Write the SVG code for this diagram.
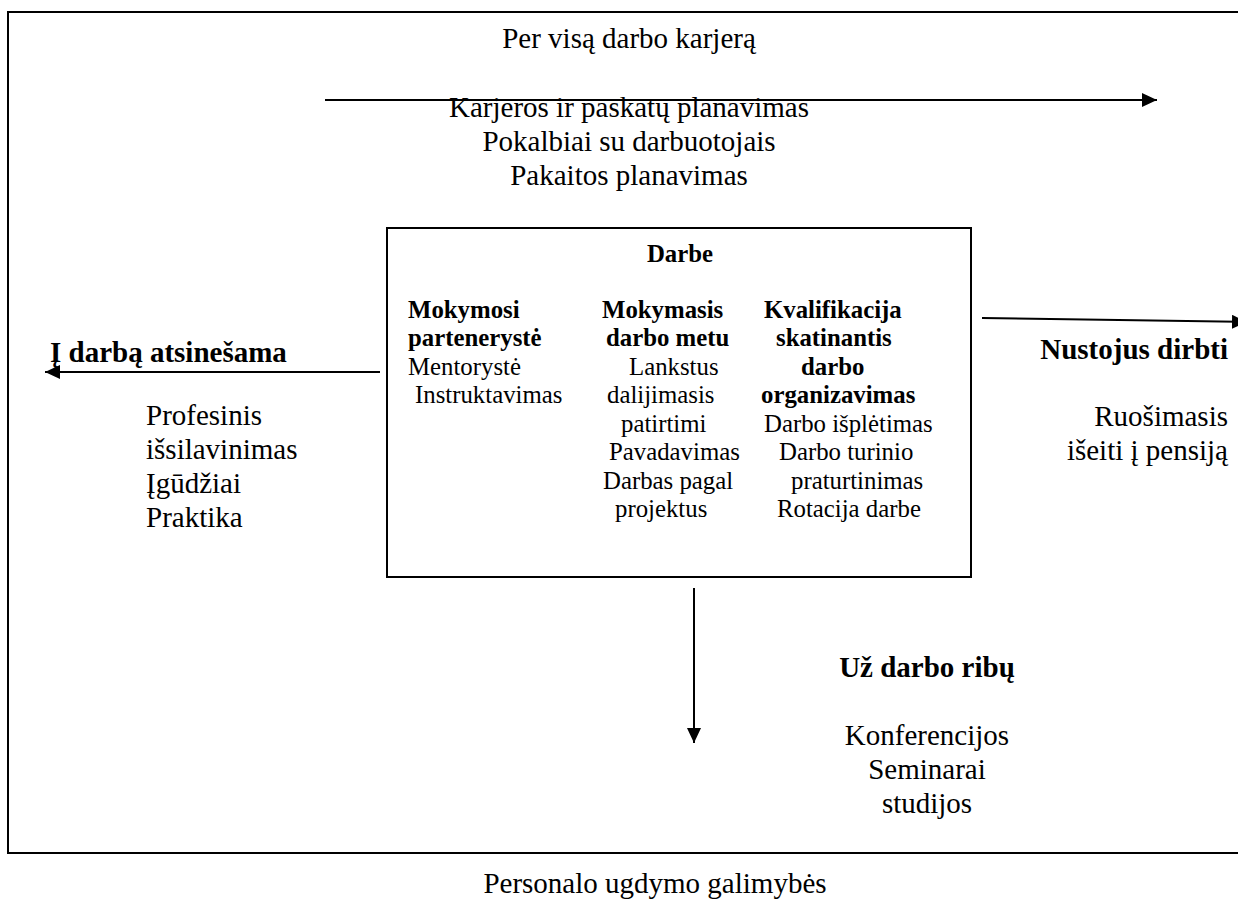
<svg xmlns="http://www.w3.org/2000/svg" width="1238" height="909" viewBox="0 0 1238 909">
  <style>
    text { font-family: "Liberation Serif", "Times New Roman", serif; fill: #000; }
    .big { font-size: 29px; }
    .small { font-size: 24.8px; }
    .b { font-weight: bold; }
    .mid { text-anchor: middle; }
    .end { text-anchor: end; }
    .frame { fill: none; stroke: #000; stroke-width: 2; }
    .conn { fill: none; stroke: #000; stroke-width: 2; }
  </style>
  <defs>
    <marker id="head" viewBox="0 0 15 14" refX="15" refY="7" markerWidth="15" markerHeight="14" markerUnits="userSpaceOnUse" orient="auto">
      <path d="M0,0 L15,7 L0,14 Z" fill="#000"/>
    </marker>
  </defs>
  <rect width="1238" height="909" fill="#fff"/>

  <!-- outer frame (right edge runs past the page) -->
  <path class="frame" d="M1250,12 H8 V853 H1250"/>

  <!-- top band -->
  <g id="career">
    <text class="big mid" x="629" y="48">Per visą darbo karjerą</text>
    <text class="big mid" x="629" y="117">Karjeros ir paskatų planavimas</text>
    <text class="big mid" x="629" y="151">Pokalbiai su darbuotojais</text>
    <text class="big mid" x="629" y="185">Pakaitos planavimas</text>
  </g>

  <!-- central box -->
  <g id="darbe">
    <rect class="frame" x="387" y="228" width="584" height="349"/>
    <text class="small b mid" x="680" y="262">Darbe</text>
    <text class="small b" x="408" y="318">Mokymosi</text>
    <text class="small b" x="408" y="346">partenerystė</text>
    <text class="small" x="408" y="375">Mentorystė</text>
    <text class="small" x="415" y="403">Instruktavimas</text>

    <text class="small b" x="602" y="318">Mokymasis</text>
    <text class="small b" x="606" y="346">darbo metu</text>
    <text class="small" x="629" y="375">Lankstus</text>
    <text class="small" x="607" y="403">dalijimasis</text>
    <text class="small" x="621" y="432">patirtimi</text>
    <text class="small" x="609" y="460">Pavadavimas</text>
    <text class="small" x="603" y="489">Darbas pagal</text>
    <text class="small" x="615" y="517">projektus</text>

    <text class="small b" x="764" y="318">Kvalifikacija</text>
    <text class="small b" x="776" y="346">skatinantis</text>
    <text class="small b" x="801" y="375">darbo</text>
    <text class="small b" x="761" y="403">organizavimas</text>
    <text class="small" x="764" y="432">Darbo išplėtimas</text>
    <text class="small" x="779" y="460">Darbo turinio</text>
    <text class="small" x="791" y="489">praturtinimas</text>
    <text class="small" x="777" y="517">Rotacija darbe</text>
  </g>

  <!-- left: brought into the job -->
  <g id="atsinesama">
    <text class="big b" x="50" y="362">Į darbą atsinešama</text>
    <text class="big" x="146" y="425">Profesinis</text>
    <text class="big" x="146" y="459">išsilavinimas</text>
    <text class="big" x="146" y="493">Įgūdžiai</text>
    <text class="big" x="146" y="527">Praktika</text>
  </g>

  <!-- right: after leaving work -->
  <g id="nustojus">
    <text class="big b end" x="1228" y="359">Nustojus dirbti</text>
    <text class="big end" x="1228" y="426">Ruošimasis</text>
    <text class="big end" x="1228" y="460">išeiti į pensiją</text>
  </g>

  <!-- bottom: outside work -->
  <g id="uz-darbo">
    <text class="big b mid" x="927" y="677">Už darbo ribų</text>
    <text class="big mid" x="927" y="745">Konferencijos</text>
    <text class="big mid" x="927" y="779">Seminarai</text>
    <text class="big mid" x="927" y="813">studijos</text>
  </g>

  <g id="caption">
    <text class="big mid" x="655" y="893">Personalo ugdymo galimybės</text>
  </g>

  <!-- connectors -->
  <g id="connectors">
    <line class="conn" x1="325" y1="100" x2="1157" y2="100" marker-end="url(#head)"/>
    <line class="conn" x1="380" y1="372" x2="45" y2="372" marker-end="url(#head)"/>
    <line class="conn" x1="982" y1="318" x2="1247" y2="322" marker-end="url(#head)"/>
    <line class="conn" x1="694" y1="588" x2="694" y2="743" marker-end="url(#head)"/>
  </g>
</svg>
